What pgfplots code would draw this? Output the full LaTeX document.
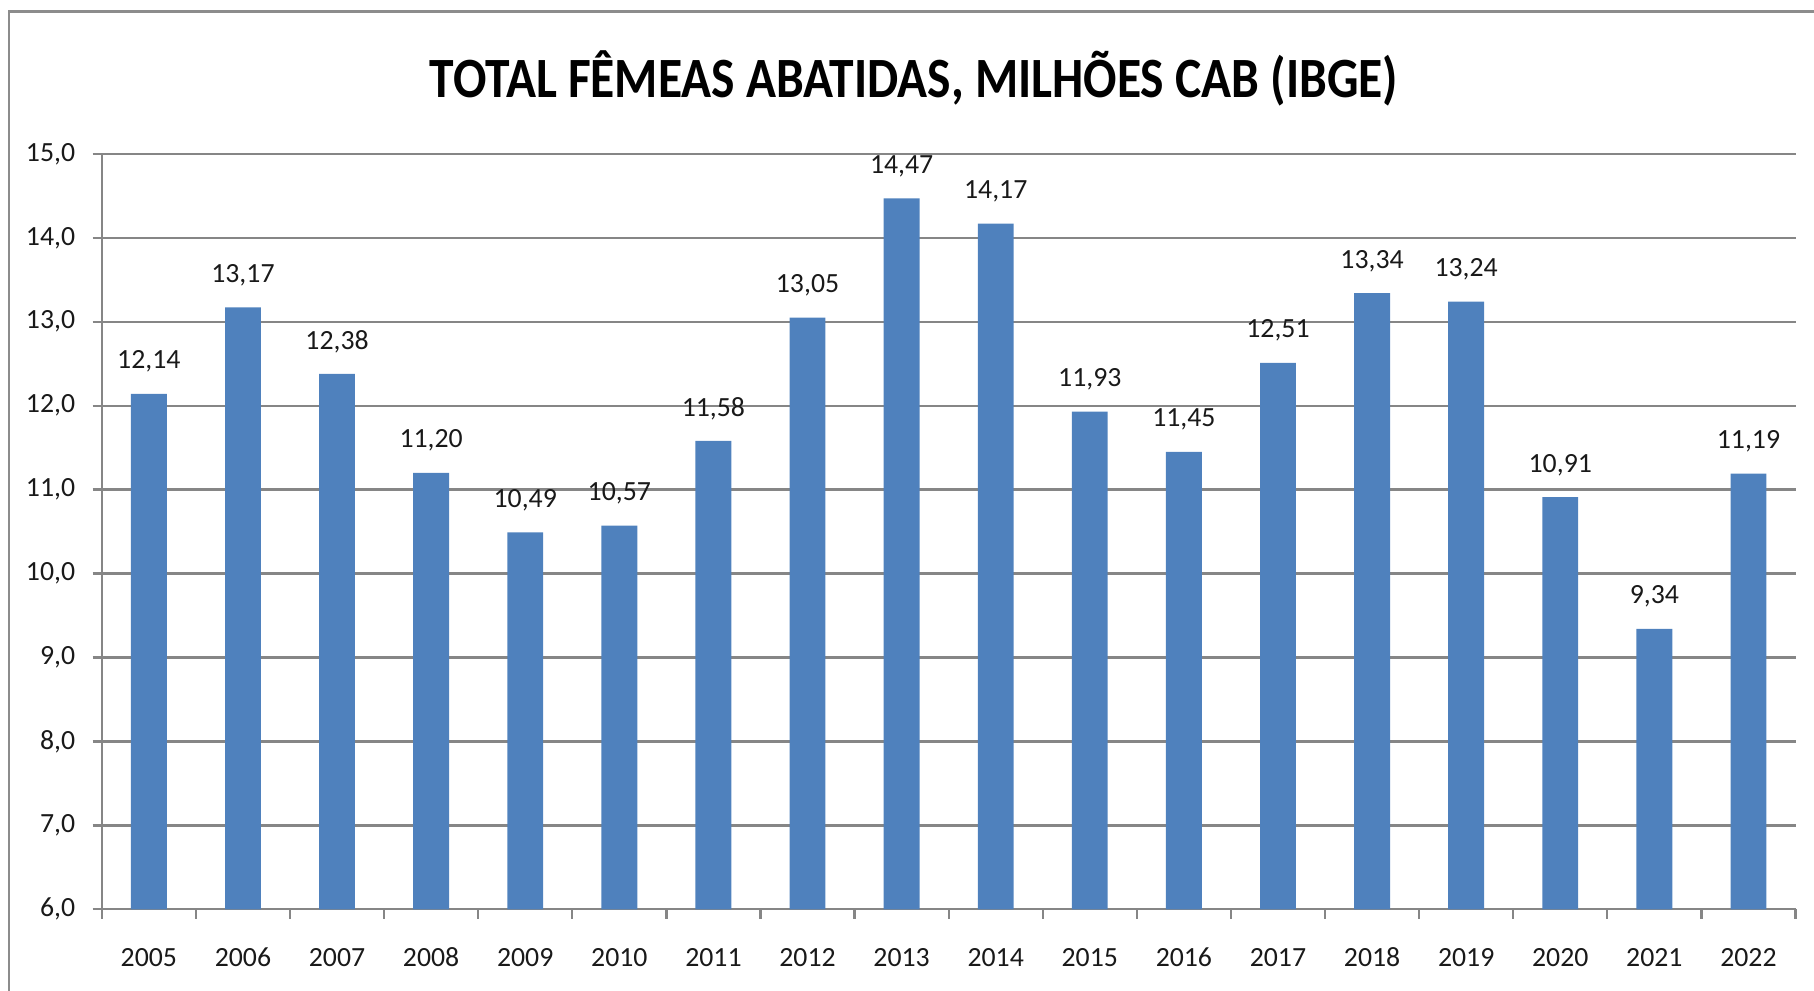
\documentclass[border=0pt]{standalone}
\usepackage{fontspec}
\setmainfont{Carlito}
\usepackage{graphicx}
\usepackage{pgfplots}
\pgfplotsset{compat=1.18}

\definecolor{barblue}{RGB}{79,129,189}
\definecolor{gridgray}{RGB}{134,134,134}
\definecolor{framegray}{RGB}{140,140,140}

\begin{document}
\begin{tikzpicture}
% bounding box of the whole picture, set first
\path[use as bounding box] (-44pt,-35pt) rectangle (740pt,393pt);
\begin{axis}[
  name=main,
  scale only axis,
  width=732pt, height=326.5pt,
  at={(0,0)}, anchor=south west,
  xmin=-0.5, xmax=17.5,
  ymin=6, ymax=15,
  ytick={6,7,...,15},
  xtick={0,...,17},
  xticklabels={2005,2006,2007,2008,2009,2010,2011,2012,2013,2014,2015,2016,2017,2018,2019,2020,2021,2022},
  minor xtick={-0.5,0.5,...,17.5},
  major x tick style={draw=none},
  minor x tick style={draw=gridgray, line width=1pt},
  minor tick length=4pt,
  major tick length=4pt,
  tick align=outside,
  xtick pos=bottom, ytick pos=left,
  ytick style={draw=gridgray, line width=1pt},
  axis x line*=bottom, axis y line*=left,
  axis line style={draw=gridgray, line width=1pt, -},
  ymajorgrids,
  grid style={draw=gridgray, line width=1pt},
  tick label style={font=\fontsize{12}{14}\selectfont, text=black!90},
  /pgf/number format/assume math mode=true,
  yticklabel style={xshift=-4pt, /pgf/number format/use comma, /pgf/number format/fixed,
    /pgf/number format/fixed zerofill, /pgf/number format/precision=1},
  xticklabel style={yshift=-9pt, text height=8pt, text depth=0pt},
  ybar, bar width=15.5pt,
  nodes near coords,
  nodes near coords style={font=\fontsize{12}{14}\selectfont, text=black!90,
    /pgf/number format/use comma, /pgf/number format/fixed,
    /pgf/number format/fixed zerofill, /pgf/number format/precision=2},
  every node near coord/.append style={anchor=center, yshift=14pt},
  clip=false,
]
\addplot[fill=barblue, draw=none] coordinates {
  (0,12.14) (1,13.17) (2,12.38) (3,11.20) (4,10.49) (5,10.57)
  (6,11.58) (7,13.05) (8,14.47) (9,14.17) (10,11.93) (11,11.45)
  (12,12.51) (13,13.34) (14,13.24) (15,10.91) (16,9.34) (17,11.19)
};
\end{axis}
% outer chart frame (left and top edges are inside the image)
\draw[framegray, line width=1pt] (-40pt,-40pt) -- (-40pt,388pt) -- (750pt,388pt);
\node[font=\fontsize{21.4}{26}\selectfont\bfseries] at (351pt,359pt)
  {\scalebox{1}[1.15]{TOTAL FÊMEAS ABATIDAS, MILHÕES CAB (IBGE)}};
\end{tikzpicture}
\end{document}
